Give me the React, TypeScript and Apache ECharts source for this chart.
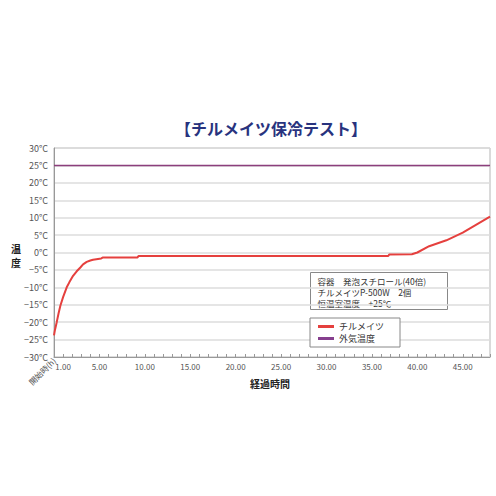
import React, { useEffect, useRef } from 'react';
import * as echarts from 'echarts';

// elapsed hours and inside temperature (°C) of the chilled box
const hours = [0, 0.1, 0.3, 0.5, 0.7, 1.0, 1.4, 1.7, 2.1, 2.5, 2.9, 3.2, 3.6, 4.0, 4.3, 5.2, 5.4, 9.2, 9.3, 36.8, 36.9, 39.4, 40.0, 41.3, 43.2, 45.0, 46.5, 48.0];
const chillTemps = [-23.8, -22.3, -20, -17.5, -15.3, -12.8, -10, -8.5, -6.7, -5.4, -4.3, -3.4, -2.7, -2.3, -2.1, -1.7, -1.4, -1.4, -1.0, -1.0, -0.6, -0.5, 0, 1.8, 3.5, 5.7, 8, 10.3];

// outside air temperature
const airHours = [0, 48];
const airTemps = [25, 25];

const xLabelValues = [1, 5, 10, 15, 20, 25, 30, 35, 40, 45];
const xTickValues = Array.from({ length: 49 }, (_, i) => i);

const noteLines = ['容器　発泡スチロール(40倍)', 'チルメイツP-500W　2個', '恒温室温度　+25℃'];

const FONT = '"Noto Sans CJK JP", "Noto Sans", sans-serif';

const App: React.FC = () => {
    const chartRef = useRef<HTMLDivElement>(null);

    useEffect(() => {
        document.body.style.margin = '0';
        if (!chartRef.current) return;
        const chart = echarts.init(chartRef.current, undefined, { renderer: 'svg' });

        const option: echarts.EChartsOption = {
            animation: false,
            backgroundColor: '#ffffff',
            textStyle: { fontFamily: FONT },
            grid: {
                left: 54,
                right: 6,
                top: 148,
                bottom: 139,
                show: true,
                borderColor: '#b5b5b5',
                borderWidth: 1,
            },
            legend: {
                orient: 'vertical',
                left: 310,
                top: 318,
                backgroundColor: '#ffffff',
                borderColor: '#888',
                borderWidth: 1,
                padding: [4, 16, 4, 8],
                itemGap: 3,
                itemWidth: 16,
                itemHeight: 3,
                icon: 'rect',
                textStyle: { fontSize: 9, color: '#333', fontFamily: FONT },
                data: ['チルメイツ', '外気温度'],
            },
            xAxis: {
                type: 'value',
                min: 0,
                max: 48,
                axisLine: { show: true, onZero: false, lineStyle: { color: '#999' } },
                axisTick: {
                    show: true,
                    inside: true,
                    length: 3,
                    customValues: xTickValues,
                    lineStyle: { color: '#999' },
                },
                axisLabel: {
                    customValues: xLabelValues,
                    formatter: (v: number) => v.toFixed(2),
                    fontSize: 8,
                    color: '#555',
                    margin: 5,
                },
                splitLine: { show: false },
            },
            yAxis: {
                type: 'value',
                min: -30,
                max: 30,
                interval: 5,
                axisLine: { show: true, lineStyle: { color: '#999' } },
                axisTick: { show: false },
                axisLabel: {
                    formatter: (v: number) => (v < 0 ? '−' + Math.abs(v) : String(v)) + '°C',
                    fontSize: 9,
                    color: '#555',
                    margin: 6,
                },
                splitLine: { show: true, lineStyle: { color: '#dcdcdc', width: 1.5 } },
            },
            series: [
                {
                    name: 'チルメイツ',
                    type: 'line',
                    data: hours.map((h, i) => [h, chillTemps[i]]),
                    showSymbol: false,
                    color: '#e5403e',
                    lineStyle: { width: 2, color: '#e5403e' },
                    z: 3,
                },
                {
                    name: '外気温度',
                    type: 'line',
                    data: airHours.map((h, i) => [h, airTemps[i]]),
                    showSymbol: false,
                    color: '#863f8e',
                    lineStyle: { width: 1.5, color: '#8c3f7c' },
                    z: 2,
                },
            ],
            graphic: [
                {
                    type: 'text',
                    x: 271,
                    y: 128,
                    style: {
                        text: '【チルメイツ保冷テスト】',
                        fill: '#28337e',
                        font: `bold 16px ${FONT}`,
                        align: 'center',
                        verticalAlign: 'middle',
                    },
                },
                {
                    type: 'text',
                    x: 16,
                    y: 248,
                    style: {
                        text: '温',
                        fill: '#222',
                        font: `bold 10px ${FONT}`,
                        align: 'center',
                        verticalAlign: 'middle',
                    },
                },
                {
                    type: 'text',
                    x: 16,
                    y: 262,
                    style: {
                        text: '度',
                        fill: '#222',
                        font: `bold 10px ${FONT}`,
                        align: 'center',
                        verticalAlign: 'middle',
                    },
                },
                {
                    type: 'text',
                    x: 270,
                    y: 383,
                    style: {
                        text: '経過時間',
                        fill: '#222',
                        font: `bold 10px ${FONT}`,
                        align: 'center',
                        verticalAlign: 'middle',
                    },
                },
                {
                    type: 'text',
                    x: 57,
                    y: 362,
                    rotation: Math.PI / 4,
                    style: {
                        text: '開始時(h)',
                        fill: '#555',
                        font: `8px ${FONT}`,
                        align: 'right',
                        verticalAlign: 'bottom',
                    },
                },
                {
                    type: 'group',
                    left: 310,
                    top: 272,
                    z: 10,
                    children: [
                        {
                            type: 'rect',
                            shape: { x: 0, y: 0, width: 137, height: 37 },
                            style: { fill: '#ffffff', stroke: '#888', lineWidth: 1 },
                        },
                        {
                            type: 'text',
                            x: 7,
                            y: 3,
                            style: {
                                text: noteLines.join('\n'),
                                fill: '#333',
                                font: `8.5px ${FONT}`,
                                lineHeight: 11,
                            },
                        },
                    ],
                },
            ],
        };

        chart.setOption(option);
        return () => chart.dispose();
    }, []);

    return <div ref={chartRef} style={{ width: 496, height: 496 }} />;
};

export default App;
